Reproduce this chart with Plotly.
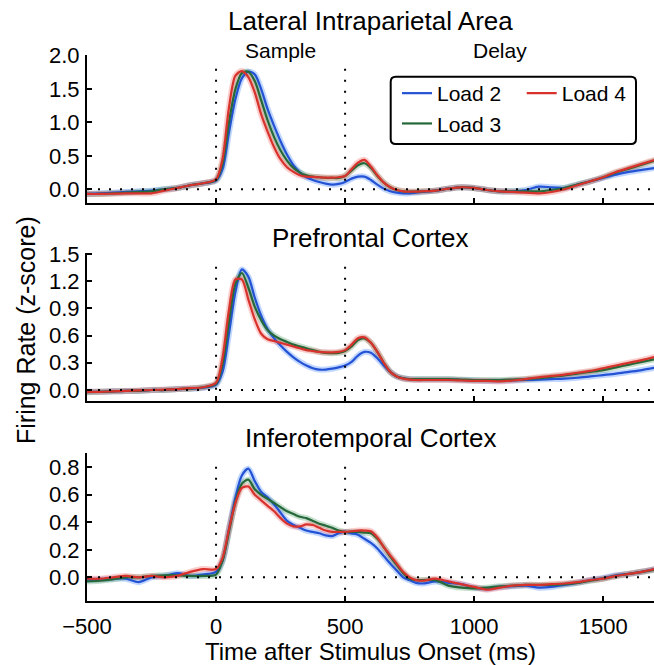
import plotly.graph_objects as go

# ---------------- data ----------------
time_ms = [-500, -450, -400, -350, -300, -250, -200, -150, -100, -50,
           0, 25, 50, 75, 100, 125, 150, 175, 200, 225, 250, 275, 300, 325, 350, 375,
           400, 425, 450, 475, 500, 525, 550, 575, 600, 625, 650, 675, 700, 725, 750, 775, 800,
           850, 900, 950, 1000, 1050, 1100, 1150, 1200, 1250, 1300, 1350, 1400, 1450, 1500,
           1550, 1600, 1650, 1700]

# Lateral Intraparietal Area
lip_load2 = [-0.07, -0.06, -0.05, -0.04, -0.03, -0.02, 0.0, 0.02, 0.06, 0.09,
             0.13, 0.30, 0.85, 1.35, 1.66, 1.76, 1.72, 1.50, 1.20, 0.95, 0.72, 0.52, 0.36, 0.25, 0.18, 0.14,
             0.11, 0.085, 0.07, 0.08, 0.11, 0.16, 0.19, 0.19, 0.14, 0.07, 0.01, -0.03, -0.05, -0.06, -0.06, -0.05, -0.04,
             -0.02, 0.01, 0.03, 0.02, -0.01, -0.03, -0.03, -0.01, 0.04, 0.03, 0.02, 0.07, 0.12, 0.17,
             0.22, 0.26, 0.29, 0.32]
lip_load3 = [-0.07, -0.07, -0.06, -0.05, -0.04, -0.03, 0.0, 0.02, 0.06, 0.09,
             0.14, 0.38, 1.00, 1.50, 1.74, 1.76, 1.62, 1.33, 1.03, 0.78, 0.58, 0.43, 0.32, 0.25, 0.21, 0.19,
             0.18, 0.17, 0.17, 0.17, 0.20, 0.28, 0.36, 0.39, 0.32, 0.20, 0.10, 0.03, -0.01, -0.03, -0.035, -0.035, -0.03,
             -0.02, 0.01, 0.03, 0.02, -0.01, -0.03, -0.03, -0.03, -0.03, -0.01, 0.02, 0.07, 0.12, 0.18,
             0.25, 0.31, 0.37, 0.43]
lip_load4 = [-0.07, -0.07, -0.065, -0.06, -0.06, -0.06, -0.02, 0.02, 0.06, 0.09,
             0.15, 0.45, 1.22, 1.70, 1.77, 1.68, 1.45, 1.12, 0.86, 0.63, 0.45, 0.33, 0.26, 0.21, 0.19, 0.185,
             0.18, 0.175, 0.175, 0.18, 0.20, 0.30, 0.40, 0.44, 0.34, 0.21, 0.10, 0.03, -0.01, -0.03, -0.035, -0.035, -0.03,
             -0.02, 0.01, 0.03, 0.02, -0.01, -0.03, -0.04, -0.05, -0.06, -0.04, 0.0, 0.06, 0.12, 0.18,
             0.26, 0.32, 0.38, 0.44]

# Prefrontal Cortex
pfc_load2 = [-0.02, -0.02, -0.015, -0.01, -0.01, 0.0, 0.0, 0.01, 0.015, 0.025,
             0.06, 0.20, 0.62, 1.08, 1.33, 1.25, 1.02, 0.82, 0.67, 0.57, 0.49, 0.42, 0.36, 0.31, 0.27, 0.24,
             0.225, 0.225, 0.235, 0.25, 0.27, 0.31, 0.38, 0.42, 0.41, 0.35, 0.27, 0.20, 0.15, 0.13, 0.12, 0.115, 0.115,
             0.115, 0.115, 0.11, 0.105, 0.10, 0.10, 0.105, 0.11, 0.115, 0.12, 0.125, 0.135, 0.15, 0.165,
             0.18, 0.20, 0.22, 0.245]
pfc_load3 = [-0.025, -0.02, -0.015, -0.01, -0.01, 0.0, 0.0, 0.01, 0.015, 0.03,
             0.07, 0.28, 0.75, 1.17, 1.29, 1.13, 0.92, 0.77, 0.66, 0.60, 0.56, 0.53, 0.50, 0.48, 0.46, 0.44,
             0.42, 0.41, 0.405, 0.41, 0.43, 0.48, 0.55, 0.57, 0.52, 0.42, 0.30, 0.20, 0.15, 0.13, 0.12, 0.12, 0.12,
             0.12, 0.12, 0.115, 0.11, 0.11, 0.11, 0.115, 0.12, 0.13, 0.145, 0.16, 0.18, 0.20, 0.22,
             0.25, 0.28, 0.31, 0.34]
pfc_load4 = [-0.02, -0.02, -0.015, -0.01, -0.005, 0.0, 0.005, 0.01, 0.02, 0.03,
             0.08, 0.35, 0.88, 1.22, 1.22, 1.00, 0.78, 0.62, 0.56, 0.54, 0.52, 0.50, 0.48, 0.46, 0.44, 0.43,
             0.42, 0.415, 0.415, 0.42, 0.44, 0.50, 0.57, 0.58, 0.52, 0.42, 0.30, 0.20, 0.15, 0.125, 0.115, 0.11, 0.11,
             0.11, 0.11, 0.105, 0.10, 0.10, 0.095, 0.105, 0.12, 0.14, 0.155, 0.17, 0.19, 0.21, 0.24,
             0.27, 0.30, 0.33, 0.365]

# Inferotemporal Cortex
it_load2 = [-0.02, -0.015, -0.01, -0.01, -0.035, 0.0, 0.01, 0.03, 0.01, 0.02,
            0.04, 0.12, 0.35, 0.58, 0.74, 0.79, 0.70, 0.62, 0.58, 0.53, 0.47, 0.41, 0.38, 0.36, 0.34, 0.33,
            0.32, 0.305, 0.30, 0.32, 0.33, 0.32, 0.31, 0.28, 0.25, 0.21, 0.155, 0.10, 0.05, 0.0, -0.02, -0.04, -0.045,
            -0.03, -0.04, -0.05, -0.075, -0.085, -0.07, -0.065, -0.06, -0.075, -0.07, -0.055, -0.04, -0.02, -0.005,
            0.015, 0.025, 0.04, 0.06]
it_load3 = [-0.03, -0.025, -0.015, 0.0, 0.0, 0.01, 0.015, 0.015, 0.01, 0.01,
            0.02, 0.12, 0.33, 0.55, 0.68, 0.71, 0.64, 0.60, 0.57, 0.54, 0.51, 0.48, 0.46, 0.44, 0.43, 0.41,
            0.39, 0.375, 0.36, 0.34, 0.33, 0.33, 0.33, 0.325, 0.32, 0.28, 0.22, 0.15, 0.09, 0.03, -0.01, -0.02, -0.02,
            -0.02, -0.06, -0.075, -0.08, -0.075, -0.065, -0.06, -0.055, -0.055, -0.055, -0.05, -0.04, -0.025, -0.01,
            0.01, 0.025, 0.04, 0.055]
it_load4 = [-0.01, -0.01, 0.0, 0.01, 0.0, 0.01, 0.0, 0.01, 0.04, 0.06,
            0.06, 0.14, 0.35, 0.54, 0.65, 0.66, 0.60, 0.56, 0.52, 0.48, 0.43, 0.39, 0.37, 0.37, 0.385, 0.38,
            0.36, 0.34, 0.33, 0.33, 0.33, 0.335, 0.34, 0.34, 0.335, 0.29, 0.22, 0.16, 0.10, 0.04, 0.0, -0.02, -0.025,
            -0.01, -0.03, -0.05, -0.07, -0.09, -0.075, -0.06, -0.055, -0.055, -0.05, -0.045, -0.035, -0.02, -0.01,
            0.01, 0.025, 0.04, 0.06]

load_names = ["Load 2", "Load 3", "Load 4"]
panel_titles = ["Lateral Intraparietal Area", "Prefrontal Cortex", "Inferotemporal Cortex"]
epoch_labels = ["Sample", "Delay"]
epoch_centers = [250, 1100]
x_ticks = [-500, 0, 500, 1000, 1500]
y_ticks = [[0.0, 0.5, 1.0, 1.5, 2.0],
           [0.0, 0.3, 0.6, 0.9, 1.2, 1.5],
           [0.0, 0.2, 0.4, 0.6, 0.8]]

panels = [[lip_load2, lip_load3, lip_load4],
          [pfc_load2, pfc_load3, pfc_load4],
          [it_load2, it_load3, it_load4]]

# ---------------- style ----------------
W, H = 654, 665
FONT = "Liberation Sans, Arial, Helvetica, sans-serif"
line_colors = ["#2452d4", "#25683a", "#d8322c"]
band_colors = ["rgba(80,140,255,0.35)", "rgba(70,150,90,0.30)", "rgba(245,90,90,0.30)"]
legend_ids = ["legend", "legend", "legend2"]

# pixel geometry -> paper coords
x_dom = [87 / W, 1.0]
panel_px = [(55.0, 202.7), (252.7, 400.7), (452.7, 600.7)]
y_doms = [[1 - b / H, 1 - t / H] for (t, b) in panel_px]
y_ranges = [[-0.2006, 2.01], [-0.118, 1.514], [-0.170, 0.906]]
x_range = [-500, 1697]

fig = go.Figure()

for p in range(3):
    xa = "x" if p == 0 else f"x{p+1}"
    ya = "y" if p == 0 else f"y{p+1}"
    for k in range(3):
        fig.add_trace(go.Scatter(
            x=time_ms, y=panels[p][k], mode="lines", xaxis=xa, yaxis=ya,
            line=dict(color=band_colors[k], width=6, shape="spline", smoothing=0.8),
            showlegend=False, hoverinfo="skip"))
    for k in range(3):
        fig.add_trace(go.Scatter(
            x=time_ms, y=panels[p][k], mode="lines", xaxis=xa, yaxis=ya,
            name=load_names[k],
            line=dict(color=line_colors[k], width=2.2, shape="spline", smoothing=0.8),
            showlegend=(p == 0), legend=legend_ids[k]))

axis_common = dict(showgrid=False, zeroline=False, showline=True, linecolor="black",
                   linewidth=2, ticks="inside", ticklen=5, tickwidth=1.5, tickcolor="black",
                   automargin=False,
                   tickfont=dict(family=FONT, size=22, color="black"))

layout = dict(
    template="none",
    width=W, height=H, margin=dict(l=0, r=0, t=0, b=0, pad=0, autoexpand=False),
    paper_bgcolor="white", plot_bgcolor="white",
    font=dict(family=FONT, color="black"),
)

for p in range(3):
    xkey = "xaxis" if p == 0 else f"xaxis{p+1}"
    ykey = "yaxis" if p == 0 else f"yaxis{p+1}"
    yanchor_name = "y" if p == 0 else f"y{p+1}"
    xanchor_name = "x" if p == 0 else f"x{p+1}"
    xa = dict(axis_common, domain=x_dom, range=x_range, anchor=yanchor_name,
              tickvals=x_ticks, showticklabels=(p == 2))
    if p == 2:
        xa["title"] = dict(text="Time after Stimulus Onset (ms)",
                           font=dict(family=FONT, size=24, color="black"), standoff=0)
        xa["ticklabelstandoff"] = 5
    ya = dict(axis_common, domain=y_doms[p], range=y_ranges[p], anchor=xanchor_name,
              tickvals=y_ticks[p], tickformat=".1f", ticklabelstandoff=1)
    layout[xkey] = xa
    layout[ykey] = ya

fig.update_layout(**layout)

# dotted reference lines
shapes = []
for p in range(3):
    xr = "x" if p == 0 else f"x{p+1}"
    yr = "y" if p == 0 else f"y{p+1}"
    for xv in [0, 500]:
        shapes.append(dict(type="line", xref=xr, yref=f"{yr} domain", x0=xv, x1=xv, y0=0, y1=0.955,
                           line=dict(color="black", width=2, dash="2px,9px")))
    shapes.append(dict(type="line", xref=f"{xr} domain", yref=yr, x0=0, x1=1, y0=0, y1=0,
                       line=dict(color="black", width=2, dash="2px,9px")))

# legend frame (rounded rectangle)
lx0, lx1, ly0, ly1, rad = 390.7, 636.0, 76.7, 144.0, 5.0
def px(xp):
    return xp / W
def py(yp):
    return 1 - yp / H
path = (f"M {px(lx0+rad)},{py(ly0)} L {px(lx1-rad)},{py(ly0)} Q {px(lx1)},{py(ly0)} {px(lx1)},{py(ly0+rad)} "
        f"L {px(lx1)},{py(ly1-rad)} Q {px(lx1)},{py(ly1)} {px(lx1-rad)},{py(ly1)} "
        f"L {px(lx0+rad)},{py(ly1)} Q {px(lx0)},{py(ly1)} {px(lx0)},{py(ly1-rad)} "
        f"L {px(lx0)},{py(ly0+rad)} Q {px(lx0)},{py(ly0)} {px(lx0+rad)},{py(ly0)} Z")
shapes.append(dict(type="path", xref="paper", yref="paper", path=path,
                   line=dict(color="black", width=2), fillcolor="rgba(255,255,255,0)"))
fig.update_layout(shapes=shapes)

legend_style = dict(font=dict(family=FONT, size=21, color="black"), bgcolor="rgba(0,0,0,0)",
                    borderwidth=0, orientation="v", xanchor="left", yanchor="top",
                    tracegroupgap=0, itemwidth=30)
fig.update_layout(
    legend=dict(legend_style, x=397 / W, y=1 - 73 / H),
    legend2=dict(legend_style, x=521.7 / W, y=1 - 73 / H),
)

# titles and epoch labels
title_centers_px = [21, 238, 438]
annotations = []
for p in range(3):
    annotations.append(dict(text=panel_titles[p], xref="paper", yref="paper",
                            x=(x_dom[0] + x_dom[1]) / 2, y=1 - title_centers_px[p] / H,
                            xanchor="center", yanchor="middle", showarrow=False,
                            font=dict(family=FONT, size=26, color="black")))
for lab, xc in zip(epoch_labels, epoch_centers):
    annotations.append(dict(text=lab, xref="x", yref="paper", x=xc, y=1 - 50 / H,
                            xanchor="center", yanchor="middle", showarrow=False,
                            font=dict(family=FONT, size=21, color="black")))
annotations.append(dict(text="Firing Rate (z-score)", xref="paper", yref="paper",
                        x=26 / W, y=1 - 330 / H, textangle=-90, xanchor="center", yanchor="middle",
                        showarrow=False, font=dict(family=FONT, size=25, color="black")))
fig.update_layout(annotations=annotations)

fig.write_html("out.html")
